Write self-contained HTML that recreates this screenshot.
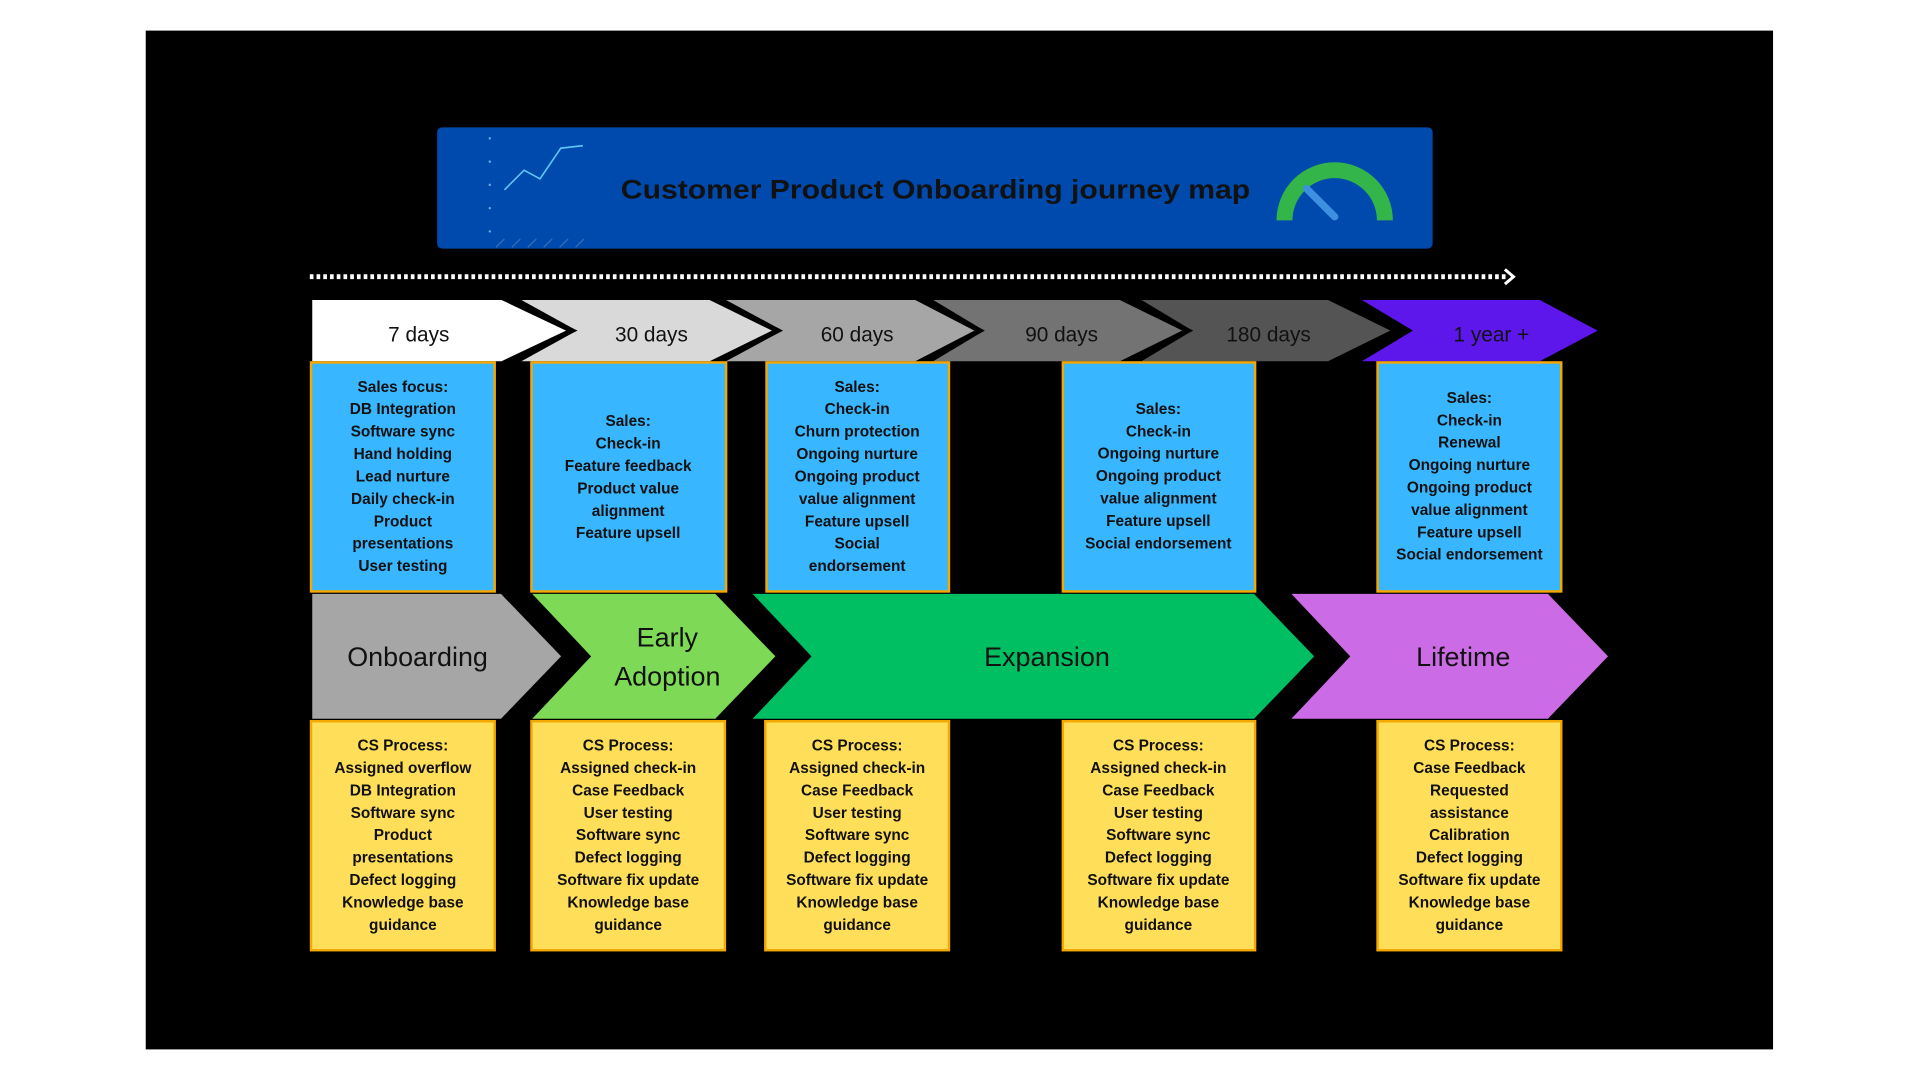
<!DOCTYPE html>
<html><head><meta charset="utf-8"><style>
html,body{margin:0;padding:0;background:#fff;}
svg{display:block;}
text{font-family:"Liberation Sans",sans-serif;}
.b{font-weight:bold;font-size:12.6px;fill:#111;text-anchor:middle;}
.t{font-size:17px;fill:#111;text-anchor:middle;}
.p{font-size:22px;fill:#111;text-anchor:middle;}
</style></head><body>
<svg width="1920" height="1080" viewBox="0 0 1568 882" xmlns="http://www.w3.org/2000/svg">
<rect x="0" y="0" width="1568" height="882" fill="#fff"/>
<rect x="119" y="25" width="1329" height="832" fill="#000"/>
<rect x="357" y="104" width="813" height="99" rx="4" fill="#004aad"/>
<g stroke="#5ec8f5" stroke-width="1.3" fill="none">
<polyline points="412,155 428,139 441,146 458,121 476,119"/>
</g>
<g fill="#6fa8dc"><circle cx="400" cy="113" r="1"/><circle cx="400" cy="132" r="1"/><circle cx="400" cy="151" r="1"/><circle cx="400" cy="170" r="1"/><circle cx="400" cy="189" r="1"/></g>
<g stroke="#3a6fb0" stroke-width="1"><line x1="405" y1="202" x2="412" y2="195"/><line x1="418" y1="202" x2="425" y2="195"/><line x1="431" y1="202" x2="438" y2="195"/><line x1="444" y1="202" x2="451" y2="195"/><line x1="457" y1="202" x2="464" y2="195"/><line x1="470" y1="202" x2="477" y2="195"/></g>
<text x="764" y="162" font-size="22" font-weight="bold" fill="#111" text-anchor="middle" textLength="514" lengthAdjust="spacingAndGlyphs">Customer Product Onboarding journey map</text>
<path d="M1049,180 A41,41 0 0 1 1131,180" stroke="#34b54a" stroke-width="13" fill="none"/>
<line x1="1067" y1="154" x2="1090" y2="177" stroke="#3d8fe0" stroke-width="6" stroke-linecap="round"/>
<line x1="253" y1="226" x2="1232" y2="226" stroke="#fff" stroke-width="4" stroke-dasharray="3,2.5"/>
<polyline points="1229,220 1236,226 1229,232" stroke="#fff" stroke-width="2.5" fill="none"/>
<g stroke="#000" stroke-width="4" stroke-linejoin="miter">
<polygon points="1105,243 1258,243 1309,270 1258,297 1105,297 1150,270" fill="#5e17eb"/>
<polygon points="925,243 1085,243 1140,270 1085,297 925,297 970,270" fill="#545454"/>
<polygon points="755,243 915,243 970,270 915,297 755,297 800,270" fill="#737373"/>
<polygon points="585,243 748,243 800,270 748,297 585,297 635,270" fill="#a6a6a6"/>
<polygon points="418,243 580,243 635,270 580,297 418,297 467,270" fill="#d9d9d9"/>
<polygon points="253,243 410,243 467,270 410,297 253,297" fill="#fff"/>
</g>
<rect x="250" y="240" width="3" height="60" fill="#000"/>
<text class="t" x="342" y="279">7 days</text>
<text class="t" x="532" y="279">30 days</text>
<text class="t" x="700" y="279">60 days</text>
<text class="t" x="867" y="279">90 days</text>
<text class="t" x="1036" y="279">180 days</text>
<text class="t" x="1218" y="279">1 year +</text>
<g stroke="#000" stroke-width="4">
<polygon points="1050,483 1265,483 1316,536 1265,589 1050,589 1100,536" fill="#cb6ce6"/>
<polygon points="610,483 1025,483 1076,536 1025,589 610,589 660,536" fill="#00bf63"/>
<polygon points="430,483 585,483 636,536 585,589 430,589 480,536" fill="#7ed957"/>
<polygon points="253,483 410,483 461,536 410,589 253,589" fill="#a6a6a6"/>
</g>
<rect x="250" y="480" width="3" height="112" fill="#000"/>
<text class="p" x="341" y="544">Onboarding</text>
<text class="p" x="545" y="528">Early</text>
<text class="p" x="545" y="560">Adoption</text>
<text class="p" x="855" y="544">Expansion</text>
<text class="p" x="1195" y="544">Lifetime</text>
<g fill="#38b6ff" stroke="#f5a800" stroke-width="2">
<rect x="254" y="296" width="150" height="187"/>
<rect x="434" y="296" width="159" height="187"/>
<rect x="626" y="296" width="149" height="187"/>
<rect x="868" y="296" width="157" height="187"/>
<rect x="1125" y="296" width="150" height="187"/>
</g>
<g fill="#ffde59" stroke="#f5a800" stroke-width="2">
<rect x="254" y="589" width="150" height="187"/>
<rect x="434" y="589" width="158" height="187"/>
<rect x="625" y="589" width="150" height="187"/>
<rect x="868" y="589" width="157" height="187"/>
<rect x="1125" y="589" width="150" height="187"/>
</g>
<g class="b">
<text class="b" x="329" y="320"><tspan x="329" dy="0">Sales focus:</tspan><tspan x="329" dy="18.3">DB Integration</tspan><tspan x="329" dy="18.3">Software sync</tspan><tspan x="329" dy="18.3">Hand holding</tspan><tspan x="329" dy="18.3">Lead nurture</tspan><tspan x="329" dy="18.3">Daily check-in</tspan><tspan x="329" dy="18.3">Product</tspan><tspan x="329" dy="18.3">presentations</tspan><tspan x="329" dy="18.3">User testing</tspan></text>
<text class="b" x="513" y="348"><tspan x="513" dy="0">Sales:</tspan><tspan x="513" dy="18.3">Check-in</tspan><tspan x="513" dy="18.3">Feature feedback</tspan><tspan x="513" dy="18.3">Product value</tspan><tspan x="513" dy="18.3">alignment</tspan><tspan x="513" dy="18.3">Feature upsell</tspan></text>
<text class="b" x="700" y="320"><tspan x="700" dy="0">Sales:</tspan><tspan x="700" dy="18.3">Check-in</tspan><tspan x="700" dy="18.3">Churn protection</tspan><tspan x="700" dy="18.3">Ongoing nurture</tspan><tspan x="700" dy="18.3">Ongoing product</tspan><tspan x="700" dy="18.3">value alignment</tspan><tspan x="700" dy="18.3">Feature upsell</tspan><tspan x="700" dy="18.3">Social</tspan><tspan x="700" dy="18.3">endorsement</tspan></text>
<text class="b" x="946" y="338"><tspan x="946" dy="0">Sales:</tspan><tspan x="946" dy="18.3">Check-in</tspan><tspan x="946" dy="18.3">Ongoing nurture</tspan><tspan x="946" dy="18.3">Ongoing product</tspan><tspan x="946" dy="18.3">value alignment</tspan><tspan x="946" dy="18.3">Feature upsell</tspan><tspan x="946" dy="18.3">Social endorsement</tspan></text>
<text class="b" x="1200" y="329"><tspan x="1200" dy="0">Sales:</tspan><tspan x="1200" dy="18.3">Check-in</tspan><tspan x="1200" dy="18.3">Renewal</tspan><tspan x="1200" dy="18.3">Ongoing nurture</tspan><tspan x="1200" dy="18.3">Ongoing product</tspan><tspan x="1200" dy="18.3">value alignment</tspan><tspan x="1200" dy="18.3">Feature upsell</tspan><tspan x="1200" dy="18.3">Social endorsement</tspan></text>
<text class="b" x="329" y="613"><tspan x="329" dy="0">CS Process:</tspan><tspan x="329" dy="18.3">Assigned overflow</tspan><tspan x="329" dy="18.3">DB Integration</tspan><tspan x="329" dy="18.3">Software sync</tspan><tspan x="329" dy="18.3">Product</tspan><tspan x="329" dy="18.3">presentations</tspan><tspan x="329" dy="18.3">Defect logging</tspan><tspan x="329" dy="18.3">Knowledge base</tspan><tspan x="329" dy="18.3">guidance</tspan></text>
<text class="b" x="513" y="613"><tspan x="513" dy="0">CS Process:</tspan><tspan x="513" dy="18.3">Assigned check-in</tspan><tspan x="513" dy="18.3">Case Feedback</tspan><tspan x="513" dy="18.3">User testing</tspan><tspan x="513" dy="18.3">Software sync</tspan><tspan x="513" dy="18.3">Defect logging</tspan><tspan x="513" dy="18.3">Software fix update</tspan><tspan x="513" dy="18.3">Knowledge base</tspan><tspan x="513" dy="18.3">guidance</tspan></text>
<text class="b" x="700" y="613"><tspan x="700" dy="0">CS Process:</tspan><tspan x="700" dy="18.3">Assigned check-in</tspan><tspan x="700" dy="18.3">Case Feedback</tspan><tspan x="700" dy="18.3">User testing</tspan><tspan x="700" dy="18.3">Software sync</tspan><tspan x="700" dy="18.3">Defect logging</tspan><tspan x="700" dy="18.3">Software fix update</tspan><tspan x="700" dy="18.3">Knowledge base</tspan><tspan x="700" dy="18.3">guidance</tspan></text>
<text class="b" x="946" y="613"><tspan x="946" dy="0">CS Process:</tspan><tspan x="946" dy="18.3">Assigned check-in</tspan><tspan x="946" dy="18.3">Case Feedback</tspan><tspan x="946" dy="18.3">User testing</tspan><tspan x="946" dy="18.3">Software sync</tspan><tspan x="946" dy="18.3">Defect logging</tspan><tspan x="946" dy="18.3">Software fix update</tspan><tspan x="946" dy="18.3">Knowledge base</tspan><tspan x="946" dy="18.3">guidance</tspan></text>
<text class="b" x="1200" y="613"><tspan x="1200" dy="0">CS Process:</tspan><tspan x="1200" dy="18.3">Case Feedback</tspan><tspan x="1200" dy="18.3">Requested</tspan><tspan x="1200" dy="18.3">assistance</tspan><tspan x="1200" dy="18.3">Calibration</tspan><tspan x="1200" dy="18.3">Defect logging</tspan><tspan x="1200" dy="18.3">Software fix update</tspan><tspan x="1200" dy="18.3">Knowledge base</tspan><tspan x="1200" dy="18.3">guidance</tspan></text>
</g>
</svg>
</body></html>
